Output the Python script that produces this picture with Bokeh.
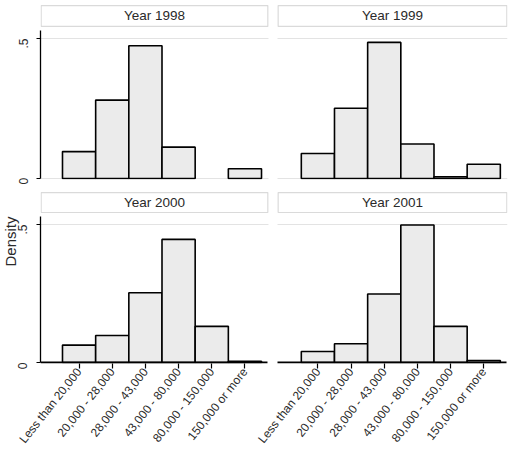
import math
from bokeh.plotting import figure
from bokeh.layouts import column
from bokeh.models import Range1d, FixedTicker, Title, ColumnDataSource
from bokeh.core.properties import value
from bokeh.embed import file_html
from bokeh.resources import INLINE

categories = ["Less than 20,000", "20,000 - 28,000", "28,000 - 43,000",
              "43,000 - 80,000", "80,000 - 150,000", "150,000 or more"]
years = ["Year 1998", "Year 1999", "Year 2000", "Year 2001"]
density_1998 = [0.096, 0.280, 0.474, 0.112, 0.0, 0.035]
density_1999 = [0.089, 0.251, 0.486, 0.123, 0.006, 0.051]
density_2000 = [0.063, 0.098, 0.253, 0.446, 0.131, 0.004]
density_2001 = [0.040, 0.068, 0.248, 0.498, 0.131, 0.007]
y_ticks = [0, 0.5]
y_tick_labels = ["0", ".5"]

FONT = "Liberation Sans"
TXT = "#2a2a2a"
# x layout of the two panels in a row (category units)
L0, L1 = -1.163, 5.71        # left panel extent
R0, R1 = 5.982, 12.916       # right panel extent
R_OFF = 7.2                  # offset of right panel categories
N = len(categories)


def row_fig(height, top, bottom, ytop, head_bottom, panels, show_x, y_standoff):
    p = figure(width=512, height=height, output_backend="svg", toolbar_location=None,
               x_range=Range1d(L0, R1), y_range=Range1d(-0.0036, ytop),
               min_border_left=40, min_border_right=5,
               min_border_top=top, min_border_bottom=bottom)
    p.outline_line_color = None
    p.background_fill_color = "white"
    p.border_fill_color = "white"
    p.grid.visible = False

    for (title, vals, x0, x1, off) in panels:
        # grid lines at 0 and .5 within this panel
        gy = y_ticks if not show_x else y_ticks[1:]
        p.segment(x0=[x0] * len(gy), x1=[x1] * len(gy), y0=gy, y1=gy,
                  line_color="#e3e3e3", line_width=1.2)
        # header strip
        p.quad(left=[x0 + 0.02], right=[x1 - 0.02], bottom=[head_bottom],
               top=[ytop - 0.004], fill_color="white", line_color="#dadada",
               line_width=1.2)
        p.text(x=[(x0 + x1) / 2], y=[(head_bottom + ytop) / 2], text=[title],
               text_font=value(FONT), text_font_size="13.5px", text_color=TXT,
               text_align="center", text_baseline="middle")
        idx = [i for i, v in enumerate(vals) if v > 0]
        src = ColumnDataSource(dict(x=[off + i for i in idx], top=[vals[i] for i in idx]))
        p.vbar(x="x", top="top", bottom=0, width=1, source=src,
               fill_color="#ebebeb", line_color="black", line_width=1.6)
        if show_x:
            p.segment(x0=[x0], x1=[x1 - 0.03], y0=[0], y1=[0],
                      line_color="black", line_width=1.8)

    ax = p.yaxis[0]
    ax.ticker = FixedTicker(ticks=y_ticks)
    ax.major_label_overrides = {t: l for t, l in zip(y_ticks, y_tick_labels)}
    ax.major_label_orientation = math.pi / 2
    ax.major_label_text_font = FONT
    ax.major_label_text_font_size = "12px"
    ax.major_label_text_color = TXT
    ax.axis_line_color = "black"
    ax.axis_line_width = 1.3
    ax.major_tick_out = 4
    ax.major_tick_in = 0
    ax.major_tick_line_color = "black"
    ax.minor_tick_line_color = None
    ax.major_label_standoff = y_standoff
    ax.bounds = (0, 0.529)

    if show_x:
        ax = p.xaxis[0]
        ticks = [float(i) for i in range(N)] + [R_OFF + i for i in range(N)]
        ax.ticker = FixedTicker(ticks=ticks)
        ax.major_label_overrides = {t: categories[k % N] for k, t in enumerate(ticks)}
        ax.major_label_orientation = 0.9
        ax.major_label_text_font = FONT
        ax.major_label_text_font_size = "12px"
        ax.major_label_text_color = TXT
        ax.axis_line_color = None
        ax.major_tick_out = 5
        ax.major_tick_in = 0
        ax.major_tick_line_color = "black"
        ax.major_tick_line_width = 1.2
        ax.minor_tick_line_color = None
        ax.major_label_standoff = 1
    else:
        p.xaxis.visible = False
    return p


top = row_fig(184, 4, 5, 175 / 280 - 0.0036, 0.543,
              [(years[0], density_1998, L0, L1, 0.0),
               (years[1], density_1999, R0, R1, R_OFF)], False, 13)
bottom = row_fig(270, 7, 91, 172 / 276 - 0.0036, 0.5435,
                 [(years[2], density_2000, L0, L1, 0.0),
                  (years[3], density_2001, R0, R1, R_OFF)], True, 14)

bottom.add_layout(Title(text="Density", align="left", offset=97, standoff=-17,
                        text_font=FONT, text_font_size="15px", text_font_style="normal",
                        text_color=TXT), "left")

layout = column(top, bottom, spacing=0)
open("out.html", "w").write(file_html(layout, INLINE))
